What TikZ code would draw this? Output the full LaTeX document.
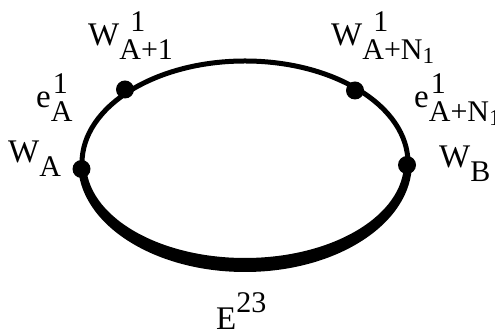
\documentclass[tikz,border=0pt]{standalone}
\usepackage{fontspec}
\setmainfont{Liberation Serif}
\tikzset{
  % thin upper rim, heavy lower rim, black vertex dots
  rim/.style    = {line width=5pt, black},
  vertex/.style = {circle, fill=black, inner sep=0pt, minimum size=18pt},
  lbl/.style    = {font=\fontsize{33}{36}\selectfont, inner sep=0pt, anchor=base west},
}
% base, raised index, lowered index (optional shift of the raised one)
\newcommand{\idx}[4][0pt]{#2\rlap{\hspace{#1}\raisebox{14pt}{\fontsize{30}{30}\selectfont #3}}%
  \raisebox{-14pt}{\fontsize{30}{30}\selectfont #4}}
\newcommand{\subone}{\raisebox{-4pt}{\fontsize{23}{23}\selectfont 1}}

\begin{document}
\begin{tikzpicture}[x=1pt,y=1pt]
  \useasboundingbox (0,0) rectangle (495,336);
  % --- rim ----------------------------------------------------------------
  \coordinate (c) at (245,173);
  \draw[rim] (c) ellipse [x radius=163, y radius=102];
  \fill (c) ++(167,0) arc[start angle=0, end angle=-180, x radius=167, y radius=109]
    -- ++(8,0) arc[start angle=180, end angle=360, x radius=159, y radius=95] -- cycle;
  % --- vertices -------------------------------------------------------------
  \node[vertex] (wa)  at (81.5,167) {};
  \node[vertex] (wa1) at (125,246.5) {};
  \node[vertex] (wan) at (355,245.5) {};
  \node[vertex] (wb)  at (407,171) {};
  % --- labels ---------------------------------------------------------------
  \node[lbl] (lwa)  at (8,173)   {\idx{W}{}{A}};
  \node[lbl] (lea)  at (36,228)  {\idx[2pt]{e}{1}{A}};
  \node[lbl] (lwa1) at (88,290)  {\idx[11pt]{W}{1}{A+1}};
  \node[lbl] (lwan) at (331,290) {\idx[11pt]{W}{1}{A+N\subone}};
  \node[lbl] (lean) at (414,228) {\idx[2pt]{e}{1}{A+N\subone}};
  \node[lbl] (lwb)  at (439,168) {\idx{W}{}{B}};
  \node[lbl] (le)   at (216,6)   {\idx[0pt]{E}{\raisebox{3pt}{23}}{}};
\end{tikzpicture}
\end{document}
